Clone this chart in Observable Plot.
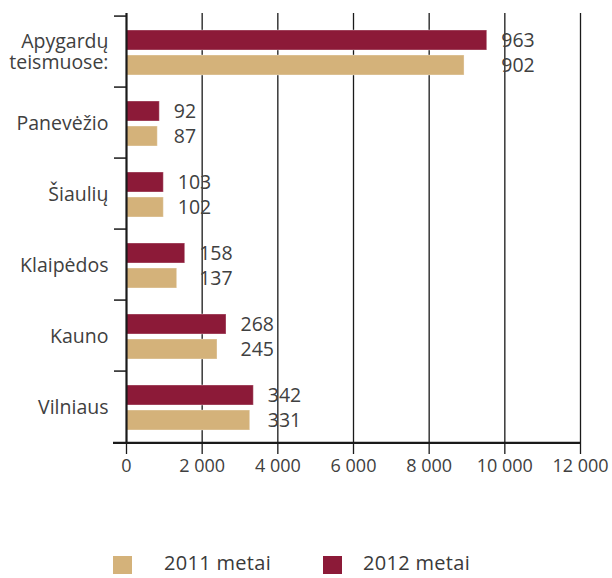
<!DOCTYPE html>
<html>
<head>
<meta charset="utf-8">
<script src="https://cdn.jsdelivr.net/npm/d3@7"></script>
<script src="https://cdn.jsdelivr.net/npm/@observablehq/plot@0.6"></script>
<style>
  body { margin: 0; background: #fff; font-family: "Open Sans", sans-serif; }
  #wrap { position: relative; width: 612px; height: 578px; }
  #legend { position: absolute; left: 0; top: 552px; width: 612px; height: 26px; font-size: 20px; color: #3a3a3a; }
  .sw { position: absolute; width: 19px; height: 18px; top: 4px; }
  .lt { position: absolute; top: -3px; letter-spacing: 0.3px; }
</style>
</head>
<body>
<div id="wrap">
  <div id="chart"></div>
  <div id="legend"></div>
</div>
<script>
const categories = ["Apygardų\nteismuose:", "Panevėžio", "Šiaulių", "Klaipėdos", "Kauno", "Vilniaus"];
const labels2012 = [963, 92, 103, 158, 268, 342];
const labels2011 = [902, 87, 102, 137, 245, 331];
const bars2012 = [9535, 880, 986, 1552, 2643, 3365];
const bars2011 = [8935, 827, 986, 1340, 2405, 3270];
const xTicks = [0, 2000, 4000, 6000, 8000, 10000, 12000];
const seriesNames = ["2011 metai", "2012 metai"];
const colors = {"2011": "#d4b27a", "2012": "#8c1a38"};

const rows2012 = categories.map((c, i) => ({cat: c, bar: bars2012[i], label: labels2012[i], top: Math.max(bars2012[i], bars2011[i])}));
const rows2011 = categories.map((c, i) => ({cat: c, bar: bars2011[i], label: labels2011[i], top: Math.max(bars2012[i], bars2011[i])}));

const W = 612, H = 500, mT = 13, mB = 56, mL = 126, mR = 32;
const band = (H - mT - mB) / categories.length;
const fmt = d => d3.format(",")(d).replace(/,/g, " ");

const chart = Plot.plot({
  width: W, height: H,
  marginTop: mT, marginBottom: mB, marginLeft: mL, marginRight: mR,
  style: {fontFamily: "Open Sans", fontSize: "19px", color: "#1a1a1a", background: "#fff"},
  x: {domain: [0, 12000]},
  y: {domain: categories, padding: 0},
  marks: [
    Plot.ruleX(xTicks.slice(1), {stroke: "#1a1a1a", strokeWidth: 1.3}),
    Plot.barX(rows2012, {x: "bar", y: "cat", fill: colors["2012"], stroke: "#fff", strokeOpacity: 0.35, insetTop: 14, insetBottom: 37}),
    Plot.barX(rows2011, {x: "bar", y: "cat", fill: colors["2011"], stroke: "#fff", strokeOpacity: 0.35, insetTop: 39, insetBottom: 12}),
    Plot.ruleX([0], {stroke: "#1a1a1a", strokeWidth: 2.2}),
    Plot.ruleY([categories[categories.length - 1]], {y: d => d, dy: band / 2, stroke: "#1a1a1a", strokeWidth: 2.2, insetLeft: -13}),
    Plot.axisY({tickSize: 12, tickFormat: () => "", dy: -band / 2, stroke: "#1a1a1a", strokeWidth: 1.5, label: null}),
    Plot.axisX({ticks: xTicks, tickSize: 10, tickPadding: 5, tickFormat: fmt, fontSize: 18, stroke: "#1a1a1a", fill: "#404040", strokeWidth: 1.3, label: null}),
    Plot.text(categories, {y: d => d, frameAnchor: "left", textAnchor: "end", dx: -18, lineHeight: 1.08, lineAnchor: "middle", fill: "#404040", fontSize: 19.5}),
    Plot.text(rows2012, {x: "top", y: "cat", text: d => String(d.label), textAnchor: "start", dx: 14, dy: -11.5, fill: "#404040", fontSize: 19.5}),
    Plot.text(rows2011, {x: "top", y: "cat", text: d => String(d.label), textAnchor: "start", dx: 14, dy: 13.5, fill: "#404040", fontSize: 19.5})
  ]
});
document.getElementById("chart").appendChild(chart);

const legend = document.getElementById("legend");
const items = [{name: seriesNames[0], color: colors["2011"], sx: 113, tx: 164}, {name: seriesNames[1], color: colors["2012"], sx: 323, tx: 363}];
for (const it of items) {
  const s = document.createElement("div");
  s.className = "sw"; s.style.left = it.sx + "px"; s.style.background = it.color;
  const t = document.createElement("div");
  t.className = "lt"; t.style.left = it.tx + "px"; t.textContent = it.name;
  legend.appendChild(s); legend.appendChild(t);
}
</script>
</body>
</html>
